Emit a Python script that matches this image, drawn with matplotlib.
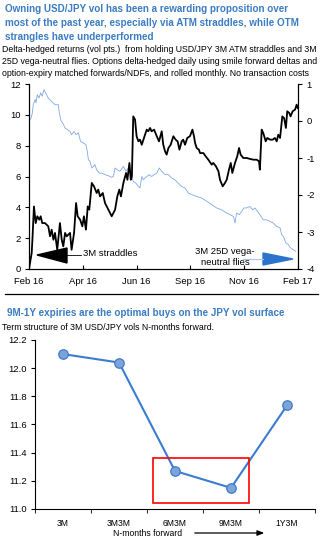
"""USD/JPY vol: delta-hedged returns and forward vol term structure."""
import matplotlib

matplotlib.use("Agg")
import matplotlib.pyplot as plt  # noqa: E402
from matplotlib.patches import Polygon, Rectangle, FancyArrowPatch  # noqa: E402
from matplotlib.lines import Line2D  # noqa: E402
import matplotlib.ticker as mticker  # noqa: E402

W, H = 329, 544
C_TITLE = "#3b7cc2"
C_FLY = "#7fa9e4"
C_ARROW = "#2b73cc"
C_LINE = "#3a7cd0"
C_MFACE = "#7fa3d6"

plt.rcParams.update({
    "font.family": ["Liberation Sans", "DejaVu Sans"],
    "font.size": 6.8,
    "axes.linewidth": 0.8,
    "axes.unicode_minus": False,
})

# --- top chart data: months since Feb 16 ---
straddle_t = [0.00, 0.12, 0.16, 0.22, 0.30, 0.37, 0.46, 0.52, 0.59, 0.71, 0.86, 0.94,
              1.01, 1.09, 1.16, 1.26, 1.38, 1.46, 1.53, 1.61, 1.68, 1.83, 1.90, 2.01,
              2.10, 2.17, 2.28, 2.38, 2.45, 2.54, 2.62, 2.69, 2.80, 2.90, 3.02, 3.09,
              3.17, 3.29, 3.39, 3.54, 3.69, 3.84, 3.94, 4.03, 4.10, 4.21, 4.33, 4.39,
              4.48, 4.54, 4.59, 4.65, 4.73, 4.80, 4.88, 4.95, 5.03, 5.13, 5.25, 5.32,
              5.40, 5.47, 5.58, 5.70, 5.80, 5.92, 5.99, 6.07, 6.14, 6.22, 6.32, 6.44,
              6.54, 6.63, 6.71, 6.81, 6.88, 6.96, 7.06, 7.18, 7.29, 7.36, 7.41, 7.48,
              7.58, 7.63, 7.78, 7.88, 8.00, 8.15, 8.22, 8.34, 8.45, 8.52, 8.64, 8.74,
              8.82, 8.92, 9.00, 9.07, 9.19, 9.29, 9.37, 9.44, 9.56, 9.71, 9.86, 10.01,
              10.16, 10.26, 10.30, 10.38, 10.45, 10.56, 10.63, 10.75, 10.87, 10.97,
              11.05, 11.12, 11.20, 11.30, 11.38, 11.46, 11.52, 11.61, 11.67, 11.76,
              11.87, 11.94, 11.99]
straddle_ret = [0.00, 1.04, 2.12, 4.06, 2.98, 3.42, 3.20, 3.42, 2.98, 2.98, 2.77, 2.12,
                2.55, 1.90, 2.34, 1.25, 2.98, 1.90, 1.47, 2.34, 2.12, 2.34, 1.25, 2.34,
                4.28, 3.42, 3.20, 2.77, 3.42, 2.55, 4.06, 3.85, 5.58, 5.36, 4.93, 5.15,
                4.71, 4.93, 4.28, 3.85, 3.42, 3.85, 4.71, 5.15, 4.71, 5.58, 6.23, 5.79,
                6.88, 5.79, 6.01, 9.90, 9.69, 8.61, 8.28, 8.39, 8.06, 8.50, 9.04, 8.93,
                9.15, 8.93, 9.04, 8.61, 8.28, 8.93, 8.06, 7.63, 7.42, 7.85, 8.06, 8.61,
                8.39, 8.28, 7.74, 8.28, 8.39, 8.06, 8.50, 8.61, 9.04, 8.61, 8.17, 7.85,
                7.74, 7.52, 7.52, 7.31, 7.09, 6.77, 6.88, 6.66, 6.34, 5.79, 5.36, 5.58,
                5.79, 6.44, 6.88, 6.23, 6.88, 7.31, 7.85, 7.42, 7.20, 7.20, 7.14, 7.09,
                7.09, 6.98, 6.44, 9.04, 8.82, 8.28, 8.50, 8.39, 8.39, 8.50, 8.28, 8.71,
                8.50, 9.90, 9.79, 9.15, 10.23, 10.12, 9.90, 10.23, 10.34, 10.66, 10.44]

fly_t = [0.00, 0.09, 0.15, 0.19, 0.27, 0.31, 0.37, 0.45, 0.52, 0.59, 0.67, 0.74, 0.86,
         1.01, 1.16, 1.31, 1.35, 1.43, 1.50, 1.61, 1.71, 1.83, 1.90, 2.01, 2.10, 2.20,
         2.30, 2.42, 2.54, 2.60, 2.65, 2.72, 2.80, 2.87, 2.94, 3.02, 3.14, 3.24, 3.39,
         3.54, 3.69, 3.76, 3.84, 3.94, 4.06, 4.21, 4.33, 4.43, 4.51, 4.58, 4.65, 4.77,
         4.88, 4.95, 5.03, 5.10, 5.17, 5.25, 5.37, 5.47, 5.58, 5.70, 5.81, 5.92, 6.07,
         6.22, 6.36, 6.51, 6.66, 6.81, 6.96, 7.11, 7.26, 7.48, 7.70, 7.93, 8.15, 8.37,
         8.59, 8.82, 8.97, 9.12, 9.19, 9.26, 9.38, 9.49, 9.59, 9.71, 9.86, 9.98, 10.08,
         10.19, 10.30, 10.45, 10.60, 10.75, 10.90, 11.05, 11.20, 11.27, 11.35, 11.46,
         11.57, 11.67, 11.79, 11.90]
fly_ret = [-0.01, 0.08, 0.22, 0.44, 0.58, 0.49, 0.71, 0.62, 0.76, 0.67, 0.85, 0.76,
           0.62, 0.53, 0.44, 0.44, 0.22, 0.00, -0.05, -0.19, -0.23, -0.28, -0.37, -0.28,
           -0.37, -0.32, -0.55, -0.59, -0.64, -0.82, -1.05, -1.09, -1.27, -1.23, -1.18,
           -1.32, -1.41, -1.41, -1.45, -1.48, -1.52, -1.50, -1.27, -1.32, -1.36, -1.23,
           -1.36, -1.27, -1.41, -1.50, -1.63, -1.68, -1.77, -1.81, -1.50, -1.59, -1.54,
           -1.50, -1.45, -1.50, -1.45, -1.41, -1.27, -1.36, -1.45, -1.45, -1.54, -1.59,
           -1.68, -1.77, -1.81, -1.95, -1.99, -2.04, -2.08, -2.17, -2.26, -2.35, -2.40,
           -2.49, -2.53, -2.58, -2.76, -2.49, -2.53, -2.44, -2.35, -2.35, -2.31, -2.40,
           -2.35, -2.44, -2.53, -2.67, -2.67, -2.71, -2.76, -2.85, -2.89, -3.07, -3.12,
           -3.30, -3.34, -3.43, -3.48, -3.52]

date_labels = ["Feb 16", "Apr 16", "Jun 16", "Sep 16", "Nov 16", "Feb 17"]

# --- bottom chart data ---
tenors = ["3M", "3M3M", "6M3M", "9M3M", "1Y3M"]
fwd_vols = [12.10, 12.04, 11.27, 11.15, 11.735]


def fx(px):
    return px / W


def fy(py):
    return 1 - py / H


fig = plt.figure(figsize=(W / 100, H / 100), dpi=100)

# titles
title_kw = dict(color=C_TITLE, fontsize=7.1, fontweight="bold", va="center", ha="left")
sub_kw = dict(fontsize=6.3, va="center", ha="left")
fig.text(fx(5), fy(9), "Owning USD/JPY vol has been a rewarding proposition over", **title_kw)
fig.text(fx(5), fy(23), "most of the past year, especially via ATM straddles, while OTM",
         **title_kw)
fig.text(fx(5), fy(37), "strangles have underperformed", **title_kw)
fig.text(fx(2), fy(49), "Delta-hedged returns (vol pts.)  from holding USD/JPY 3M ATM "
         "straddles and 3M", **sub_kw)
fig.text(fx(2), fy(61), "25D vega-neutral flies. Options delta-hedged daily using smile "
         "forward deltas and", **sub_kw)
fig.text(fx(2), fy(73), "option-expiry matched forwards/NDFs, and rolled monthly. "
         "No transaction costs", **sub_kw)

# top chart
ax = fig.add_axes([fx(29), fy(269), fx(298) - fx(29), fy(84) - fy(269)])
ax2 = ax.twinx()
ax.plot(straddle_t, straddle_ret, color="black", lw=1.3, zorder=3)
ax2.plot(fly_t, fly_ret, color=C_FLY, lw=0.6)
ax.set_zorder(ax2.get_zorder() + 1)
ax.patch.set_visible(False)
ax.set_xlim(0, 12)
ax.set_ylim(0, 12)
ax2.set_ylim(-4, 1)
ax.set_yticks(range(0, 13, 2))
ax2.set_yticks(range(-4, 2))
ax.set_xticks([i * 2.4 for i in range(6)])
ax.set_xticklabels(date_labels)
ax.tick_params(axis="x", direction="in", length=3, pad=6)
ax.tick_params(axis="y", direction="out", length=3, pad=3)
ax2.tick_params(axis="y", direction="out", length=3, pad=3)
for a in (ax, ax2):
    a.spines["top"].set_visible(False)

# straddle label with black arrow
fig.add_artist(Polygon([(fx(37), fy(255)), (fx(67), fy(248)), (fx(67), fy(263))],
                       closed=True, color="black", transform=fig.transFigure))
fig.add_artist(Line2D([fx(67), fx(81)], [fy(255), fy(255)], color="black", lw=0.6,
                      transform=fig.transFigure))
fig.text(fx(83), fy(254), "3M straddles", fontsize=6.8, va="center", ha="left")

# flies label with blue arrow
fig.add_artist(Polygon([(fx(263), fy(253)), (fx(293), fy(259)), (fx(263), fy(265))],
                       closed=True, color=C_ARROW, transform=fig.transFigure))
fig.add_artist(Line2D([fx(243), fx(263)], [fy(259), fy(259)], color="#a9c6ee", lw=0.8,
                      transform=fig.transFigure))
fig.text(fx(195), fy(251), "3M 25D vega-", fontsize=6.8, va="center", ha="left")
fig.text(fx(201), fy(262), "neutral flies", fontsize=6.8, va="center", ha="left")

# separator
fig.add_artist(Line2D([fx(5), fx(318)], [fy(294), fy(294)], color="black", lw=0.9,
                      transform=fig.transFigure))

fig.text(fx(7), fy(313), "9M-1Y expiries are the optimal buys on the JPY vol surface",
         **title_kw)
fig.text(fx(2), fy(327), "Term structure of 3M USD/JPY vols N-months forward.", **sub_kw)

# bottom chart
bx = fig.add_axes([fx(35), fy(509), fx(315) - fx(35), fy(340) - fy(509)])
xs = list(range(len(tenors)))
bx.plot(xs, fwd_vols, color=C_LINE, lw=1.5, marker="o", markersize=6.8,
        markerfacecolor=C_MFACE, markeredgecolor=C_LINE, markeredgewidth=0.9, zorder=3)
bx.set_xlim(-0.5, len(tenors) - 0.5)
bx.set_ylim(11.0, 12.2)
bx.set_yticks([11.0, 11.2, 11.4, 11.6, 11.8, 12.0, 12.2])
bx.yaxis.set_major_formatter(mticker.FormatStrFormatter("%.1f"))
bx.set_xticks(xs)
bx.set_xticklabels(tenors, fontsize=6.2)
bx.set_xticks([i - 0.5 for i in range(len(tenors) + 1)], minor=True)
bx.tick_params(axis="x", which="major", length=0, pad=7)
bx.tick_params(axis="x", which="minor", direction="out", length=3)
bx.tick_params(axis="y", direction="out", length=3, pad=3)
bx.spines["top"].set_visible(False)
bx.spines["right"].set_visible(False)
bx.add_patch(Rectangle((1.6, 11.04), 1.72, 0.32, fill=False, edgecolor="red", lw=1.2,
                       zorder=4))

fig.text(fx(148), fy(534), "N-months forward", fontsize=6.2, va="center", ha="center")
fig.add_artist(FancyArrowPatch(
    (fx(192), fy(533)), (fx(267), fy(533)), transform=fig.transFigure,
    arrowstyle="-|>,head_length=4,head_width=1.6", color="black", lw=0.9))

fig.savefig("out.png", dpi=100)
